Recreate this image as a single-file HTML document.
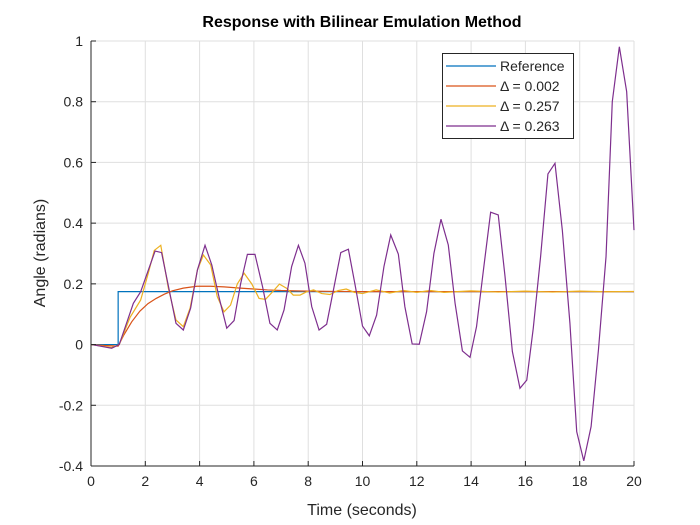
<!DOCTYPE html>
<html><head><meta charset="utf-8"><style>
body{margin:0;background:#fff;}
svg{display:block;font-family:"Liberation Sans",Arial,sans-serif;}
</style></head><body>
<svg id="chart" width="700" height="525"></svg>
<script>
const xTicks=[0,2,4,6,8,10,12,14,16,18,20];
const yTicks=[-0.4,-0.2,0,0.2,0.4,0.6,0.8,1];
const yTickLabels=["-0.4","-0.2","0","0.2","0.4","0.6","0.8","1"];
const refT=[0,1,1,20];
const refY=[0,0,0.1745,0.1745];
const fineT=[0,0.5,1,1.2,1.5,1.8,2.1,2.4,2.7,3.0,3.4,3.9,4.4,4.9,5.5,6,6.5,7,7.5,8,9,10,12,14,16,18,20];
const fineY=[0,-0.003,-0.005,0.03,0.075,0.11,0.135,0.152,0.166,0.177,0.186,0.192,0.192,0.19,0.186,0.183,0.18,0.178,0.177,0.176,0.175,0.1745,0.1745,0.1745,0.1745,0.1745,0.1745];
const medT=[0,0.76,1.04,1.44,1.83,2.11,2.33,2.57,2.85,3.13,3.4,3.65,3.92,4.14,4.41,4.65,4.9,5.14,5.39,5.64,5.92,6.19,6.43,6.69,6.94,7.21,7.45,7.7,7.95,8.2,8.5,8.8,9.1,9.4,9.7,10,10.5,11,11.5,12,12.5,13,14,15,16,17,18,19,20];
const medY=[0,-0.01,0,0.09,0.147,0.235,0.31,0.327,0.185,0.081,0.059,0.12,0.246,0.295,0.262,0.158,0.108,0.13,0.2,0.235,0.2,0.152,0.149,0.174,0.199,0.185,0.163,0.163,0.174,0.18,0.168,0.165,0.178,0.183,0.172,0.168,0.18,0.17,0.178,0.172,0.178,0.172,0.177,0.173,0.176,0.173,0.176,0.174,0.175];
const coarseT=[0.03,0.76,1.04,1.56,1.83,2.36,2.6,3.13,3.4,3.67,3.92,4.2,4.45,4.74,5.0,5.27,5.51,5.76,6.04,6.32,6.59,6.86,7.11,7.39,7.64,7.88,8.13,8.4,8.68,8.93,9.2,9.48,9.72,10.0,10.25,10.52,10.79,11.04,11.32,11.56,11.83,12.09,12.36,12.63,12.89,13.16,13.41,13.68,13.96,14.2,14.47,14.72,15.0,15.25,15.52,15.8,16.05,16.29,16.56,16.83,17.09,17.36,17.64,17.89,18.15,18.42,18.69,18.97,19.2,19.46,19.73,20.0];
const coarseY=[0,-0.012,0,0.136,0.174,0.308,0.303,0.07,0.048,0.12,0.246,0.327,0.262,0.147,0.054,0.079,0.2,0.297,0.297,0.19,0.07,0.048,0.114,0.257,0.327,0.268,0.125,0.048,0.067,0.18,0.303,0.314,0.2,0.061,0.029,0.097,0.257,0.361,0.298,0.125,0.002,0.001,0.108,0.3,0.413,0.328,0.136,-0.021,-0.042,0.059,0.257,0.436,0.427,0.224,-0.023,-0.144,-0.117,0.054,0.29,0.562,0.597,0.377,0.07,-0.287,-0.383,-0.27,-0.018,0.29,0.8,0.981,0.833,0.377];
const legendLabels=["Reference","Δ = 0.002","Δ = 0.257","Δ = 0.263"];
const legendColors=["#0072BD","#D95319","#EDB120","#7E2F8E"];

const L=91,R=634,T=41,B=466,xMin=0,xMax=20,yMin=-0.4,yMax=1;
const sx=v=>L+(v-xMin)/(xMax-xMin)*(R-L);
const sy=v=>B-(v-yMin)/(yMax-yMin)*(B-T);
const svg=document.getElementById('chart');
const NS='http://www.w3.org/2000/svg';
function mk(tag,attrs,parent){const e=document.createElementNS(NS,tag);for(const k in attrs)e.setAttribute(k,attrs[k]);(parent||svg).appendChild(e);return e;}

const grid=mk('g',{});


xTicks.forEach(v=>{mk('line',{x1:sx(v),x2:sx(v),y1:T,y2:B,stroke:'#dfdfdf','stroke-width':1},grid);});
yTicks.forEach(v=>{mk('line',{x1:L,x2:R,y1:sy(v),y2:sy(v),stroke:'#dfdfdf','stroke-width':1},grid);});

function series(ts,ys,color,name){
  const p=mk('polyline',{points:ts.map((t,i)=>sx(t)+','+sy(ys[i])).join(' '),fill:'none',stroke:color,'stroke-width':1.2});
  
  
}
series(refT,refY,'#0072BD','reference-line');
series(fineT,fineY,'#D95319','series-delta-0-002');
series(medT,medY,'#EDB120','series-delta-0-257');
series(coarseT,coarseY,'#7E2F8E','series-delta-0-263');

const ax=mk('g',{});


mk('line',{x1:L,x2:L,y1:T,y2:B,stroke:'#262626'},ax);
mk('line',{x1:L,x2:R,y1:B,y2:B,stroke:'#262626'},ax);
xTicks.forEach(v=>{
  mk('line',{x1:sx(v),x2:sx(v),y1:B,y2:B-5,stroke:'#262626'},ax);
  const t=mk('text',{x:sx(v),y:B+20,'text-anchor':'middle','font-size':14,fill:'#262626'},ax);
  t.textContent=v;
  
  
});
yTicks.forEach((v,i)=>{
  mk('line',{x1:L,x2:L+5,y1:sy(v),y2:sy(v),stroke:'#262626'},ax);
  const t=mk('text',{x:L-8,y:sy(v)+5,'text-anchor':'end','font-size':14,fill:'#262626'},ax);
  t.textContent=yTickLabels[i];
  
  
});

const lg=mk('g',{});


mk('rect',{x:442.5,y:53.5,width:131,height:85,fill:'#fff',stroke:'#262626','stroke-width':1},lg);
legendLabels.forEach((lab,i)=>{
  const y=66+i*20;
  const g=mk('g',{},lg);
  
  
  mk('line',{x1:446,x2:496,y1:y,y2:y,stroke:legendColors[i],'stroke-width':1.2},g);
  const t=mk('text',{x:500,y:y+5,'font-size':14,fill:'#262626'},g);
  t.textContent=lab;
});

const title=mk('text',{x:362,y:27,'text-anchor':'middle','font-size':16,'font-weight':'bold',fill:'#000'});
title.textContent='Response with Bilinear Emulation Method';


const xt=mk('text',{x:362,y:515,'text-anchor':'middle','font-size':16,fill:'#262626'});
xt.textContent='Time (seconds)';


const yt=mk('text',{x:0,y:0,'text-anchor':'middle','font-size':16,fill:'#262626',transform:'translate(45,253) rotate(-90)'});
yt.textContent='Angle (radians)';


</script>
</body></html>
